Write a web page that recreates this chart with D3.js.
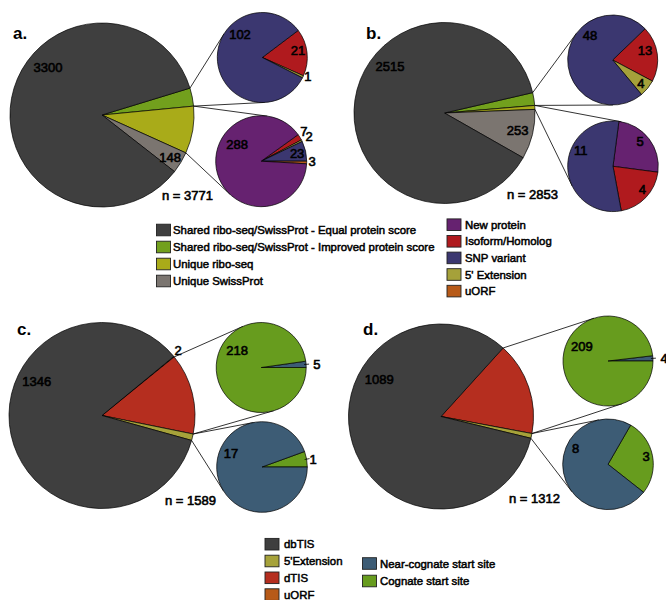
<!DOCTYPE html>
<html><head><meta charset="utf-8">
<script src="https://cdn.jsdelivr.net/npm/d3@7"></script>
<style>
body{margin:0;background:#fff}
svg{display:block}
text{font-family:"Liberation Sans",Arial,Helvetica,sans-serif;fill:#000}
</style>
</head><body>
<svg id="chart" width="666" height="600"></svg>
<script>
// ---------------- DATA ----------------
// Panel a
const aMainCats = ["Shared ribo-seq/SwissProt - Improved protein score", "Unique ribo-seq", "Unique SwissProt", "Shared ribo-seq/SwissProt - Equal protein score"];
const aMainVals = [124, 323, 148, 3300];
const aTopCats = ["Isoform/Homolog", "5' Extension", "SNP variant"];
const aTopVals = [21, 1, 102];
const aBotCats = ["Isoform/Homolog", "5' Extension", "SNP variant", "uORF", "New protein"];
const aBotVals = [7, 2, 23, 3, 288];
// Panel b
const bMainCats = aMainCats;
const bMainVals = [65, 20, 253, 2515];
const bTopCats = ["Isoform/Homolog", "5' Extension", "SNP variant"];
const bTopVals = [13, 4, 48];
const bBotCats = ["New protein", "Isoform/Homolog", "SNP variant"];
const bBotVals = [5, 4, 11];
// Panel c
const cMainCats = ["uORF", "dTIS", "5'Extension", "dbTIS"];
const cMainVals = [2, 223, 18, 1346];
const cTopCats = ["Near-cognate start site", "Cognate start site"];
const cTopVals = [5, 218];
const cBotCats = ["Cognate start site", "Near-cognate start site"];
const cBotVals = [1, 17];
// Panel d
const dMainCats = ["dTIS", "5'Extension", "dbTIS"];
const dMainVals = [213, 11, 1089];
const dTopCats = ["Near-cognate start site", "Cognate start site"];
const dTopVals = [4, 209];
const dBotCats = ["Cognate start site", "Near-cognate start site"];
const dBotVals = [3, 8];

const nLabels = ["n = 3771", "n = 2853", "n = 1589", "n = 1312"];
const panelLetters = ["a.", "b.", "c.", "d."];

// Legends
const legendA = ["Shared ribo-seq/SwissProt - Equal protein score", "Shared ribo-seq/SwissProt - Improved protein score", "Unique ribo-seq", "Unique SwissProt"];
const legendB = ["New protein", "Isoform/Homolog", "SNP variant", "5' Extension", "uORF"];
const legendC1 = ["dbTIS", "5'Extension", "dTIS", "uORF"];
const legendC2 = ["Near-cognate start site", "Cognate start site"];

// ---------------- STYLE ----------------
const colorAB = d3.scaleOrdinal()
  .domain(["Shared ribo-seq/SwissProt - Equal protein score", "Shared ribo-seq/SwissProt - Improved protein score", "Unique ribo-seq", "Unique SwissProt", "New protein", "Isoform/Homolog", "SNP variant", "5' Extension", "uORF"])
  .range(["#3f3f3f", "#72a01d", "#a9ab19", "#7b7570", "#662270", "#b01a1e", "#3b3770", "#a5a13a", "#b75a18"]);
const colorCD = d3.scaleOrdinal()
  .domain(["dbTIS", "5'Extension", "dTIS", "uORF", "Near-cognate start site", "Cognate start site"])
  .range(["#3f3f3f", "#a6a23a", "#b52e1f", "#b75a18", "#3d5c75", "#679c1e"]);

const svg = d3.select("#chart");
const rad = d => d * Math.PI / 180;

// pie layout definitions: center, radius, start angle (screen deg, clockwise from east),
// label positions [screenAngleDeg, radiusFraction, tick]
const pies = {
  aMain: {cats: aMainCats, vals: aMainVals, color: colorAB, cx: 102, cy: 115, r: 92, start: -17,
          labels: [null, null, [31.7, 0.87], [-138.4, 0.785]]},
  aTop: {cats: aTopCats, vals: aTopVals, color: colorAB, cx: 262.3, cy: 57.5, r: 45, start: -37,
          labels: [[-11.9, 0.81], [22, 1.095], [-133.5, 0.72]]},
  aBot: {cats: aBotCats, vals: aBotVals, color: colorAB, cx: 261.2, cy: 161.2, r: 45.5, start: -35.7,
          labels: [[-35.2, 1.15], [-27.8, 1.19], [-12.9, 0.81], [0, 1.12], [-144.6, 0.65]]},
  bMain: {cats: bMainCats, vals: bMainVals, color: colorAB, cx: 444.5, cy: 113, r: 90.5, start: -13,
          labels: [null, null, [13, 0.83], [-139.2, 0.795]]},
  bTop: {cats: bTopCats, vals: bTopVals, color: colorAB, cx: 612.7, cy: 60, r: 45, start: -44,
          labels: [[-17.2, 0.75], [39.1, 0.81], [-132.2, 0.75]]},
  bBot: {cats: bBotCats, vals: bBotVals, color: colorAB, cx: 613, cy: 166.3, r: 45.3, start: -82.5,
          labels: [[-43.1, 0.82], [38, 0.82], [-153, 0.8]]},
  cMain: {cats: cMainCats, vals: cMainVals, color: colorCD, cx: 102, cy: 415.5, r: 93, start: -39.5,
          labels: [[-40.8, 1.08], null, null, [-152.7, 0.79]]},
  cTop: {cats: cTopCats, vals: cTopVals, color: colorCD, cx: 261.2, cy: 367.5, r: 45, start: -8.07,
          labels: [[-3.6, 1.24, true], [-144.1, 0.66]]},
  cBot: {cats: cBotCats, vals: cBotVals, color: colorCD, cx: 262, cy: 467, r: 45.3, start: -20,
          labels: [[-8.9, 1.14, true], [-155.7, 0.75]]},
  dMain: {cats: dMainCats, vals: dMainVals, color: colorCD, cx: 441, cy: 416.5, r: 92.5, start: -47.8,
          labels: [null, null, [-148.8, 0.78]]},
  dTop: {cats: dTopCats, vals: dTopVals, color: colorCD, cx: 608, cy: 361, r: 45, start: -6.76,
          labels: [[-3.1, 1.25, true], [-150, 0.67]]},
  dBot: {cats: dBotCats, vals: dBotVals, color: colorCD, cx: 608, cy: 464.3, r: 45.3, start: -60,
          labels: [[-12.3, 0.86], [-153, 0.8]]}
};

// connections: main pie slice index -> sub pie
const links = [
  ["aMain", 0, "aTop"], ["aMain", 1, "aBot"],
  ["bMain", 0, "bTop"], ["bMain", 1, "bBot"],
  ["cMain", 1, "cTop"], ["cMain", 2, "cBot"],
  ["dMain", 0, "dTop"], ["dMain", 1, "dBot"]
];

const numFont = 13;

function layout(p) {
  const s = rad(p.start + 90);
  const gen = d3.pie().sort(null).value(d => d).startAngle(s).endAngle(s + 2 * Math.PI);
  p.arcs = gen(p.vals);
  return p;
}
Object.values(pies).forEach(layout);

function edgePoint(p, a) { // d3 angle
  return [p.cx + p.r * Math.sin(a), p.cy - p.r * Math.cos(a)];
}
function tangent(P, c, upper) {
  const dx = c.cx - P[0], dy = c.cy - P[1];
  const d = Math.hypot(dx, dy);
  const th = Math.atan2(dy, dx);
  const al = Math.asin(c.r / d);
  const L = Math.sqrt(d * d - c.r * c.r);
  const a = upper ? th - al : th + al;
  return [P[0] + L * Math.cos(a), P[1] + L * Math.sin(a)];
}

// connector lines (drawn beneath pies)
const gLinks = svg.append("g");
links.forEach(([m, i, s]) => {
  const mp = pies[m], sp = pies[s];
  const arc = mp.arcs[i];
  const P0 = edgePoint(mp, arc.startAngle);
  const P1 = edgePoint(mp, arc.endAngle);
  const T0 = tangent(P0, sp, true);
  const T1 = tangent(P1, sp, false);
  [[P0, T0], [P1, T1]].forEach(([a, b]) => {
    gLinks.append("line").attr("x1", a[0]).attr("y1", a[1]).attr("x2", b[0]).attr("y2", b[1])
      .attr("stroke", "#000").attr("stroke-width", 0.8);
  });
});

// pies
Object.values(pies).forEach(p => {
  const g = svg.append("g").attr("transform", `translate(${p.cx},${p.cy})`);
  const arcGen = d3.arc().innerRadius(0).outerRadius(p.r);
  g.selectAll("path").data(p.arcs).join("path")
    .attr("d", arcGen)
    .attr("fill", (d, i) => p.color(p.cats[i]))
    .attr("stroke", "#000").attr("stroke-width", 0.7).attr("stroke-linejoin", "round");
  p.arcs.forEach((d, i) => {
    const L = p.labels[i];
    if (!L) return;
    const a = rad(L[0]);
    const x = L[1] * p.r * Math.cos(a), y = L[1] * p.r * Math.sin(a);
    if (L[2]) {
      const mid = (d.startAngle + d.endAngle) / 2;
      const tx1 = (p.r - 2) * Math.sin(mid), ty1 = -(p.r - 2) * Math.cos(mid);
      const tx2 = (p.r + 3) * Math.sin(mid), ty2 = -(p.r + 3) * Math.cos(mid);
      g.append("line").attr("x1", tx1).attr("y1", ty1).attr("x2", tx2).attr("y2", ty2)
        .attr("stroke", "#000").attr("stroke-width", 0.8);
    }
    g.append("text").attr("x", x).attr("y", y).attr("dy", "0.36em")
      .attr("text-anchor", "middle")
      .attr("font-size", numFont)
      .attr("stroke", "#000").attr("stroke-width", 0.6)
      .text(d3.format("d")(p.vals[i]));
  });
});

// n labels & panel letters
const nPos = [[162, 200], [507, 199], [165, 505], [509, 503]];
nLabels.forEach((t, i) => {
  svg.append("text").attr("x", nPos[i][0]).attr("y", nPos[i][1])
    .attr("font-size", 13).attr("stroke", "#000").attr("stroke-width", 0.6).text(t);
});
const letterPos = [[13, 39], [366, 39], [17, 335], [363, 335]];
panelLetters.forEach((t, i) => {
  svg.append("text").attr("x", letterPos[i][0]).attr("y", letterPos[i][1])
    .attr("font-size", 17).attr("font-weight", "bold").text(t);
});

// legends
function legend(items, color, x, y0, step, tx) {
  const g = svg.append("g");
  items.forEach((t, i) => {
    const cy = y0 + i * step;
    g.append("rect").attr("x", x).attr("y", cy - 5.8).attr("width", 14).attr("height", 11.6)
      .attr("fill", color(t)).attr("stroke", "#222").attr("stroke-width", 0.9);
    g.append("text").attr("x", tx).attr("y", cy).attr("dy", "0.36em")
      .attr("font-size", 11.4).attr("stroke", "#000").attr("stroke-width", 0.5).text(t);
  });
}
legend(legendA, colorAB, 156.5, 230, 17, 173);
legend(legendB, colorAB, 447, 224.7, 16.6, 465);
legend(legendC1, colorCD, 265, 544.2, 16.8, 284);
legend(legendC2, colorCD, 362.5, 563.5, 17.5, 380);
</script>
</body></html>
